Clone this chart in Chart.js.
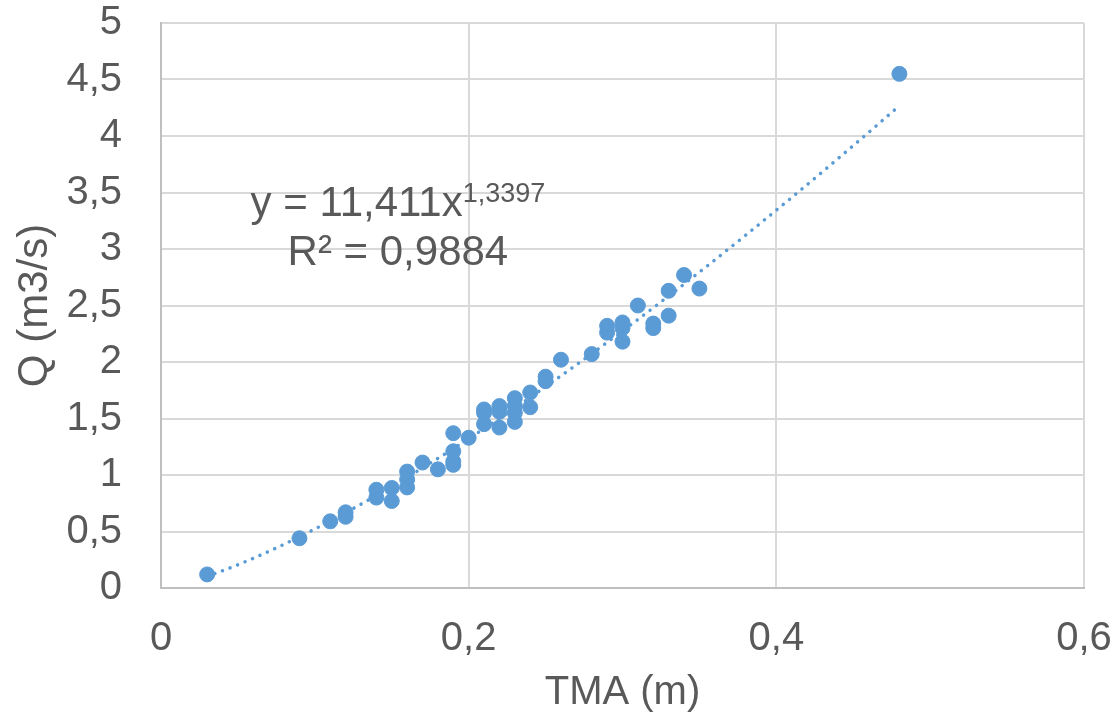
<!DOCTYPE html>
<html>
<head>
<meta charset="utf-8">
<script src="https://cdn.jsdelivr.net/npm/chart.js@4.4.1/dist/chart.umd.min.js"></script>
<style>
  html, body { margin: 0; padding: 0; background: #fff; }
  #wrap { width: 1117px; height: 719px; }
</style>
</head>
<body>
<div id="wrap"><canvas id="mycanvas" width="1117" height="719"></canvas></div>
<script>
// measured points: TMA (m) vs Q (m3/s)
var tma = [0.03, 0.09, 0.11, 0.12, 0.12, 0.14, 0.14, 0.15, 0.15, 0.16, 0.16, 0.16,
           0.17, 0.18, 0.19, 0.19, 0.19, 0.19, 0.20, 0.21, 0.21, 0.21, 0.22, 0.22,
           0.22, 0.23, 0.23, 0.23, 0.23, 0.24, 0.24, 0.25, 0.25, 0.26, 0.28, 0.29,
           0.29, 0.30, 0.30, 0.30, 0.31, 0.32, 0.32, 0.33, 0.33, 0.34, 0.35, 0.48];
var q   = [0.12, 0.44, 0.59, 0.67, 0.63, 0.87, 0.80, 0.885, 0.77, 1.03, 0.96, 0.89,
           1.11, 1.05, 1.37, 1.21, 1.12, 1.09, 1.33, 1.58, 1.55, 1.45, 1.61, 1.56,
           1.42, 1.68, 1.61, 1.55, 1.47, 1.73, 1.60, 1.87, 1.83, 2.02, 2.07, 2.32,
           2.26, 2.35, 2.30, 2.18, 2.50, 2.34, 2.30, 2.63, 2.41, 2.77, 2.65, 4.55];

// power trendline from the chart label
var fitA = 11.411;
var fitB = 1.3397;
var fitR2 = '0,9884';
var trendFrom = 0.03, trendTo = 0.48;

var xTicks = [0, 0.2, 0.4, 0.6];
var yTicks = [0, 0.5, 1, 1.5, 2, 2.5, 3, 3.5, 4, 4.5, 5];

var pts = [];
for (var i in tma) {
	pts.push({x: tma[i], y: q[i]});
}

var trend = [];
for (var t = trendFrom; t <= trendTo + 1e-9; t += 0.005) {
	trend.push({x: t, y: fitA * Math.pow(t, fitB)});
}

function fr(v) {
	return String(Math.round(v * 100) / 100).replace('.', ',');
}

var textCol = '#595959';
var blue = '#5b9bd5';
var FONT = "'Liberation Sans', Arial, sans-serif";

var eqLabel = {
	id: 'eqLabel',
	afterDatasetsDraw: function(chart) {
		var c = chart.ctx;
		var xs = chart.scales.x, ys = chart.scales.y;
		var cx = xs.getPixelForValue(0.154);
		var y1 = ys.getPixelForValue(3.29);
		var y2 = ys.getPixelForValue(2.855);
		c.save();
		c.fillStyle = textCol;
		c.textBaseline = 'alphabetic';
		c.textAlign = 'left';
		var main = 'y = ' + String(fitA).replace('.', ',') + 'x';
		var sup = String(fitB).replace('.', ',');
		c.font = '42px ' + FONT;
		var w1 = c.measureText(main).width;
		c.font = '27px ' + FONT;
		var w2 = c.measureText(sup).width;
		var sx = cx - (w1 + w2) / 2;
		c.font = '42px ' + FONT;
		c.fillText(main, sx, y1);
		c.font = '27px ' + FONT;
		c.fillText(sup, sx + w1, y1 - 14);
		c.font = '42px ' + FONT;
		c.textAlign = 'center';
		c.fillText('R\u00b2 = ' + fitR2, cx, y2);
		c.restore();
	}
};

var ctx = document.getElementById('mycanvas');

var scatterChart = new Chart(ctx, {
	type: 'scatter',
	data: {
		datasets: [
			{
				type: 'line',
				label: 'trend',
				data: trend,
				borderColor: blue,
				borderWidth: 3.5,
				borderDash: [0.1, 8],
				borderCapStyle: 'round',
				pointRadius: 0,
				fill: false,
				tension: 0
			},
			{
				label: 'Q',
				data: pts,
				backgroundColor: blue,
				borderColor: blue,
				borderWidth: 1,
				pointRadius: 7.5,
				pointHoverRadius: 7.5
			}
		]
	},
	options: {
		responsive: false,
		animation: false,
		layout: { padding: { top: 23, right: 33, left: 0, bottom: 0 } },
		plugins: {
			legend: { display: false },
			tooltip: { enabled: false }
		},
		scales: {
			x: {
				type: 'linear',
				min: 0,
				max: 0.6,
				afterBuildTicks: function(s) { s.ticks = xTicks.map(function(v) { return {value: v}; }); },
				afterFit: function(s) {
					s.height = 131;
					s.paddingLeft = 0; s.paddingRight = 0;
				},
				grid: { color: '#d9d9d9', lineWidth: 2, drawTicks: false },
				border: { color: '#bfbfbf', width: 2 },
				ticks: {
					padding: 27,
					color: textCol,
					font: { family: FONT, size: 40 },
					callback: function(v) { return fr(v); }
				},
				title: {
					display: true,
					text: 'TMA (m)',
					color: textCol,
					font: { family: FONT, size: 40 },
					padding: { top: 0, bottom: 2 }
				}
			},
			y: {
				type: 'linear',
				min: 0,
				max: 5,
				afterBuildTicks: function(s) { s.ticks = yTicks.map(function(v) { return {value: v}; }); },
				afterFit: function(s) {
					s.width = 161;
					s.paddingTop = 0; s.paddingBottom = 0;
				},
				grid: { color: '#d9d9d9', lineWidth: 2, drawTicks: false },
				border: { color: '#bfbfbf', width: 2 },
				ticks: {
					padding: 39,
					color: textCol,
					font: { family: FONT, size: 40 },
					callback: function(v) { return fr(v); }
				},
				title: {
					display: true,
					text: 'Q (m3/s)',
					color: textCol,
					font: { family: FONT, size: 42 },
					padding: { top: 10, bottom: 0 }
				}
			}
		}
	},
	plugins: [eqLabel]
});
</script>
</body>
</html>
